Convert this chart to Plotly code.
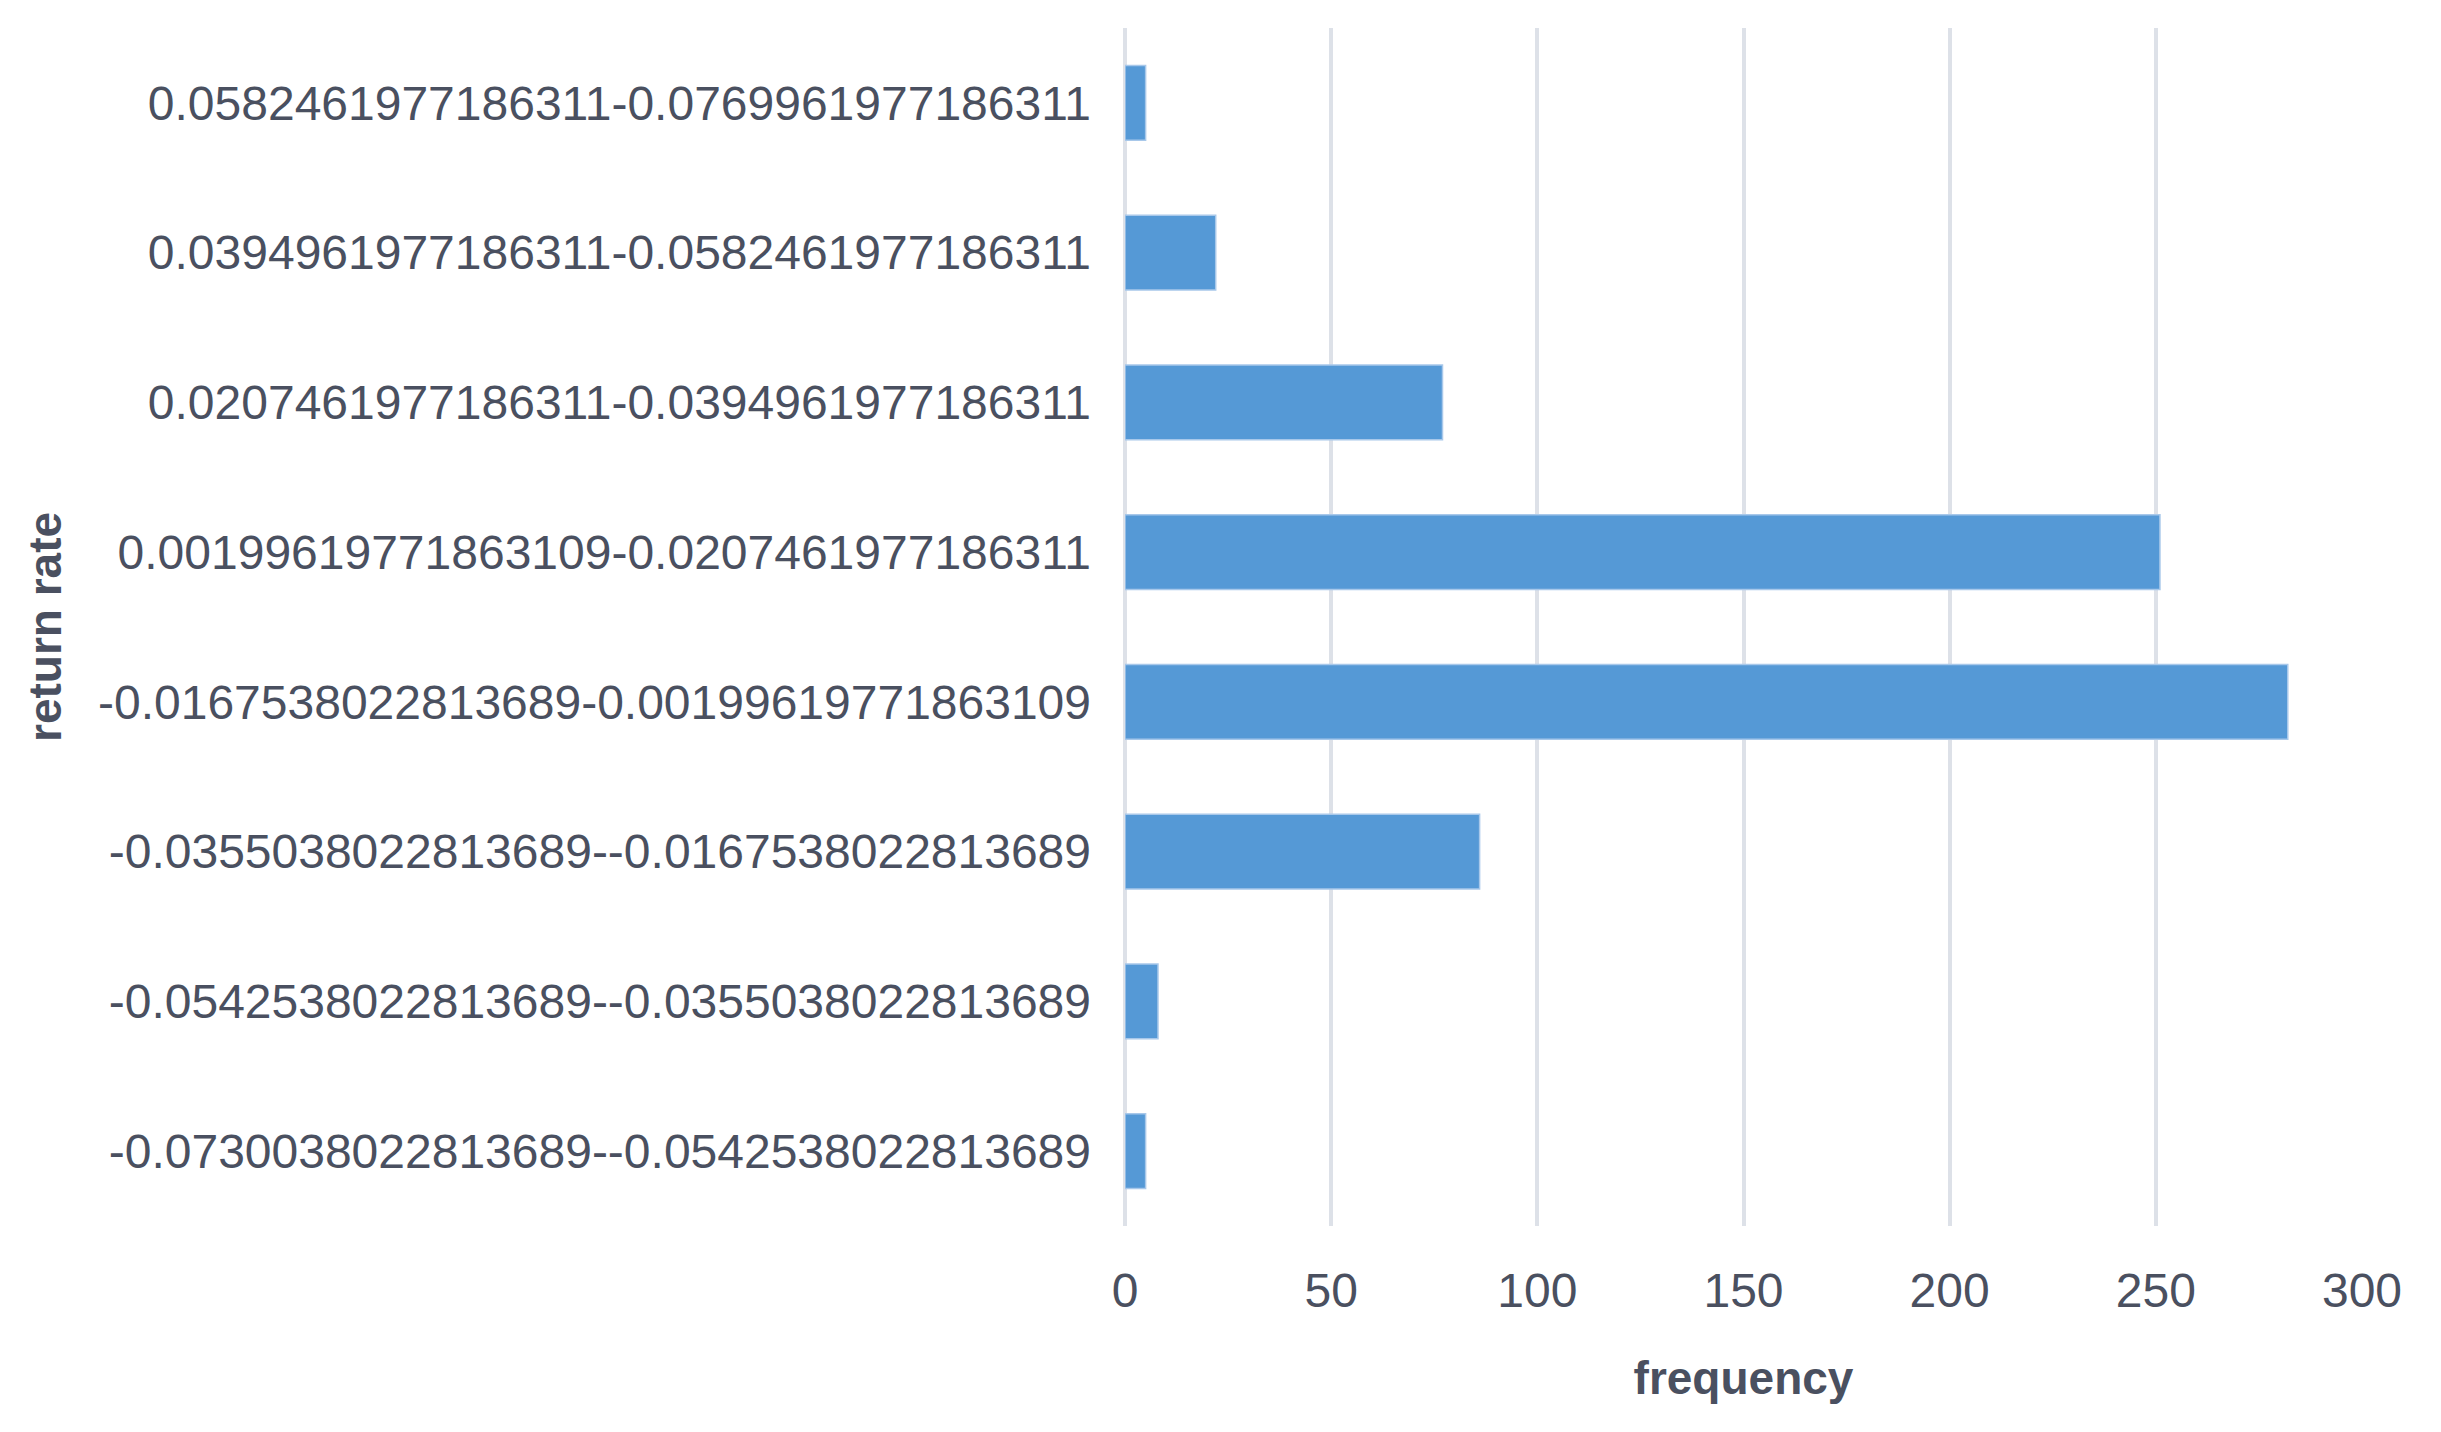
import plotly.graph_objects as go

# return-rate bins, from lowest to highest (plotly draws the first one at the bottom)
bins = [
    "-0.0730038022813689--0.0542538022813689",
    "-0.0542538022813689--0.0355038022813689",
    "-0.0355038022813689--0.0167538022813689",
    "-0.0167538022813689-0.00199619771863109",
    "0.00199619771863109-0.0207461977186311",
    "0.0207461977186311-0.0394961977186311",
    "0.0394961977186311-0.0582461977186311",
    "0.0582461977186311-0.0769961977186311",
]
frequency = [5, 8, 86, 282, 251, 77, 22, 5]

x_ticks = [0, 50, 100, 150, 200, 250, 300]

FONT = "Liberation Sans"
TEXT = "#4a5060"
GRID = "#dde1e8"

fig = go.Figure(
    data=[
        go.Bar(
            x=frequency,
            y=bins,
            orientation="h",
            marker=dict(color="#5599d6", line=dict(color="#a8c8ea", width=1.5)),
            width=0.5,
        )
    ]
)

# the page body adds 8px around the figure, margins account for it
fig.update_layout(
    width=2441,
    height=1432,
    margin=dict(l=1117, r=87, t=20, b=214),
    paper_bgcolor="white",
    plot_bgcolor="white",
    showlegend=False,
    font=dict(family=FONT, size=48, color=TEXT),
)

fig.update_xaxes(
    range=[0, 300],
    tickvals=x_ticks,
    automargin=False,
    showgrid=True,
    gridcolor=GRID,
    gridwidth=4,
    zeroline=True,
    zerolinecolor=GRID,
    zerolinewidth=4,
    showline=False,
    ticks="",
    ticklabelstandoff=32,
    tickfont=dict(size=48, color=TEXT),
    title=dict(text="<b>frequency</b>", font=dict(size=46, color=TEXT), standoff=45),
)

fig.update_yaxes(
    type="category",
    automargin=False,
    showgrid=False,
    showline=False,
    ticks="",
    ticklabelstandoff=33,
    tickfont=dict(size=48, color=TEXT),
    title=dict(text="<b>return rate</b>", font=dict(size=46, color=TEXT), standoff=21),
)

fig.write_html("out.html")
